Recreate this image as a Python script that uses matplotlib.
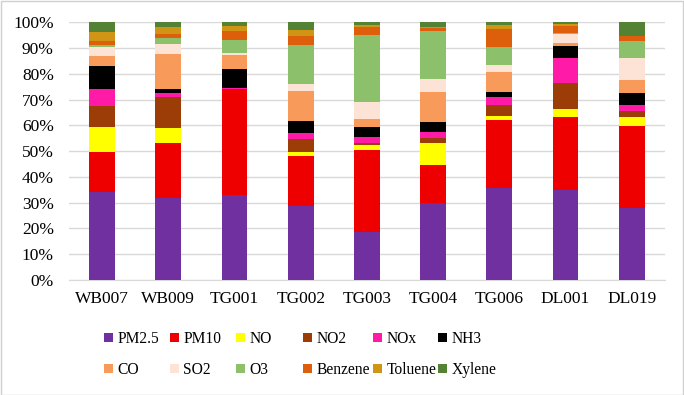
import matplotlib.pyplot as plt
import numpy as np

plt.rcParams['font.family'] = ['Liberation Serif', 'DejaVu Serif']

sites = ['WB007', 'WB009', 'TG001', 'TG002', 'TG003', 'TG004', 'TG006', 'DL001', 'DL019']
pollutants = ['PM2.5', 'PM10', 'NO', 'NO2', 'NOx', 'NH3',
              'CO', 'SO2', 'O3', 'Benzene', 'Toluene', 'Xylene']

# share of each pollutant (%) per site
pm25    = [34.0, 32.0, 33.0, 28.7, 18.5, 30.0, 35.8, 34.8, 28.0]
pm10    = [15.5, 21.2, 41.2, 19.4, 31.8, 14.5, 26.2, 28.5, 31.8]
no      = [10.0,  6.0,  0.2,  1.6,  2.0,  8.8,  1.6,  3.2,  3.5]
no2     = [ 8.0, 12.0,  0.1,  4.8,  1.0,  1.8,  4.2,  9.8,  2.3]
nox     = [ 6.5,  1.3,  0.1,  2.6,  2.0,  2.4,  3.0,  9.7,  2.5]
nh3     = [ 9.0,  1.8,  7.5,  4.6,  4.1,  3.8,  2.2,  4.8,  4.5]
co      = [ 4.0, 13.3,  5.5, 11.7,  3.2, 11.7,  7.8,  1.0,  5.0]
so2     = [ 3.5,  4.1,  0.7,  2.6,  6.5,  5.0,  2.6,  3.7,  8.8]
o3      = [ 0.5,  2.2,  5.0, 15.2, 26.0, 18.4,  6.9,  0.2,  6.5]
benzene = [ 1.5,  1.7,  3.5,  3.5,  3.2,  1.3,  7.0,  2.9,  1.8]
toluene = [ 3.5,  2.8,  2.2,  2.3,  0.7,  0.3,  1.7,  0.8,  0.2]
xylene  = [ 4.0,  1.7,  1.4,  3.0,  1.0,  2.0,  1.0,  0.6,  5.3]

colors = ['#7030A0', '#EE0000', '#FFFF00', '#9C3C06', '#FF1AA8', '#000000',
          '#F79A5A', '#FDE3D6', '#8CC06A', '#DD5F0B', '#D09515', '#548235']

data = np.array([pm25, pm10, no, no2, nox, nh3, co, so2, o3, benzene, toluene, xylene])
data = data / data.sum(axis=0) * 100

W, H = 684, 395
fig = plt.figure(figsize=(W / 100, H / 100), dpi=100)
ax = fig.add_axes([0.101, 0.291, 0.871, 0.653])

x = np.arange(len(sites))
bottom = np.zeros(len(sites))
handles = []
for i, name in enumerate(pollutants):
    b = ax.bar(x, data[i], 0.39, bottom=bottom, color=colors[i], label=name, zorder=3)
    handles.append(b)
    bottom += data[i]

ax.set_xlim(-0.5, len(sites) - 0.5)
ax.set_ylim(0, 100)
ax.set_yticks(np.arange(0, 101, 10))
ax.set_yticklabels([f'{v}%' for v in range(0, 101, 10)])
ax.set_xticks(x)
ax.set_xticklabels(sites)
ax.tick_params(length=0, labelsize=12.5, colors='black')
ax.tick_params(axis='y', pad=11)
ax.tick_params(axis='x', pad=8)
ax.grid(axis='y', color='#d9d9d9', linewidth=1, zorder=0)
for s in ['top', 'right', 'left']:
    ax.spines[s].set_visible(False)
ax.spines['bottom'].set_color('#d9d9d9')

# legend: 2 rows x 6 columns laid out on a fixed grid like Excel
col_x = [104, 170, 236, 303, 373, 438]
for j, cx in enumerate(col_x):
    leg = fig.legend([handles[j], handles[j + 6]], [pollutants[j], pollutants[j + 6]],
                     loc='center left', bbox_to_anchor=(cx / W, 1 - 354.5 / H),
                     frameon=False, fontsize=11.2, handlelength=0.55, handleheight=0.55,
                     handletextpad=0.3, labelspacing=0.95, borderpad=0, borderaxespad=0)

fig.patches.append(plt.Rectangle((0.001, 0.001), 0.998, 0.997, transform=fig.transFigure,
                                 fill=False, edgecolor='#d0d0d0', linewidth=1))

fig.savefig('out.png', dpi=100)
